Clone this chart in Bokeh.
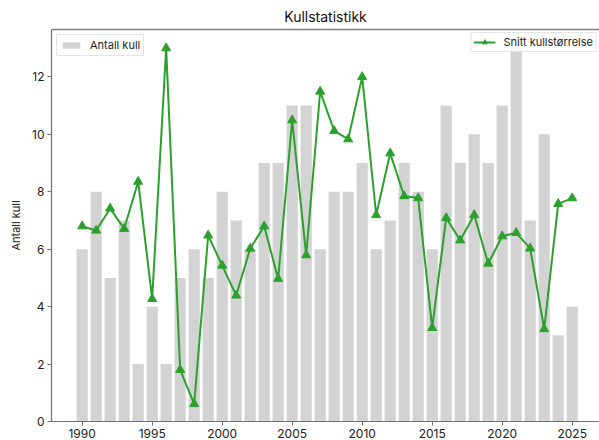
from bokeh.plotting import figure
from bokeh.models import Range1d, LinearAxis, FixedTicker, Legend, LegendItem, ColumnDataSource
from bokeh.embed import file_html
from bokeh.resources import INLINE

# ---- data ----
years = list(range(1990, 2026))
antall_kull = [6, 8, 5, 7, 2, 4, 2, 5, 6, 5,
               8, 7, 6, 9, 9, 11, 11, 6, 8, 8,
               9, 6, 7, 9, 8, 6, 11, 9, 10, 9,
               11, 13, 7, 10, 3, 4]
snitt_kullstorrelse = [6.8, 6.65, 7.42, 6.71, 8.35, 4.27, 13.0, 1.8, 0.61, 6.48,
                       5.43, 4.39, 6.02, 6.8, 4.97, 10.49, 5.79, 11.49, 10.12, 9.83,
                       12.0, 7.19, 9.34, 7.85, 7.78, 3.26, 7.09, 6.31, 7.19, 5.5,
                       6.45, 6.57, 6.03, 3.22, 7.58, 7.78]
x_ticks = [1990, 1995, 2000, 2005, 2010, 2015, 2020, 2025]
y_ticks = [0, 2, 4, 6, 8, 10, 12]

FONT = "Inter"
SPINE = "#707070"

src = ColumnDataSource(dict(year=years, kull=antall_kull, snitt=snitt_kullstorrelse))

p = figure(width=599, height=440, output_backend="svg", toolbar_location=None,
           x_range=Range1d(1987.81, 2026.95), y_range=Range1d(0, 13.65),
           title="Kullstatistikk", min_border_left=51, min_border_right=0,
           min_border_top=0, min_border_bottom=0)

p.title.text_font = FONT
p.title.text_font_size = "14px"
p.title.text_font_style = "normal"
p.title.text_color = "#111111"
p.title.align = "center"

p.outline_line_color = None
p.grid.visible = False

bars = p.vbar(x="year", top="kull", width=0.8, source=src,
              fill_color="#d3d3d3", line_color=None)
line = p.line(x="year", y="snitt", source=src, line_color="#2ca02c", line_width=2)
pts = p.scatter(x="year", y="snitt", source=src, marker="triangle", size=9,
                fill_color="#2ca02c", line_color="#2ca02c")

for ax in (p.xaxis[0], p.yaxis[0]):
    ax.axis_line_color = SPINE
    ax.axis_line_width = 1.2
    ax.major_tick_line_color = SPINE
    ax.major_tick_in = 0
    ax.major_tick_out = 4
    ax.minor_tick_line_color = None
    ax.major_label_text_font = FONT
    ax.major_label_text_font_size = "12px"
    ax.major_label_text_color = "#222222"
    ax.major_label_standoff = 3

p.xaxis[0].ticker = FixedTicker(ticks=x_ticks)
p.yaxis[0].ticker = FixedTicker(ticks=y_ticks)
p.yaxis[0].axis_label = "Antall kull"
p.yaxis[0].axis_label_text_font = FONT
p.yaxis[0].axis_label_text_font_size = "11px"
p.yaxis[0].axis_label_text_font_style = "normal"
p.yaxis[0].axis_label_text_color = "#222222"
p.yaxis[0].axis_label_standoff = 6

top_spine = LinearAxis(ticker=FixedTicker(ticks=[]), axis_line_color="#808080",
                       axis_line_width=1.5, major_tick_line_color=None,
                       minor_tick_line_color=None, major_label_text_font_size="0px")
p.add_layout(top_spine, "above")


def style_legend(lg):
    lg.label_text_font = FONT
    lg.label_text_font_size = "11px"
    lg.label_text_color = "#222222"
    lg.border_line_color = "#cccccc"
    lg.border_line_width = 1
    lg.background_fill_alpha = 0.8
    lg.padding = 3
    lg.margin = 5
    lg.spacing = 0
    lg.glyph_width = 22
    lg.glyph_height = 8
    lg.label_height = 13
    lg.label_standoff = 8


legend1 = Legend(items=[LegendItem(label="Antall kull", renderers=[bars])], location="top_left")
legend2 = Legend(items=[LegendItem(label="Snitt kullstørrelse", renderers=[line, pts])],
                 location="top_right")
style_legend(legend1)
style_legend(legend2)
legend2.margin = 3
legend2.glyph_height = 12
legend2.padding = 2
p.add_layout(legend1, "center")
p.add_layout(legend2, "center")

open("out.html", "w").write(file_html(p, INLINE))
